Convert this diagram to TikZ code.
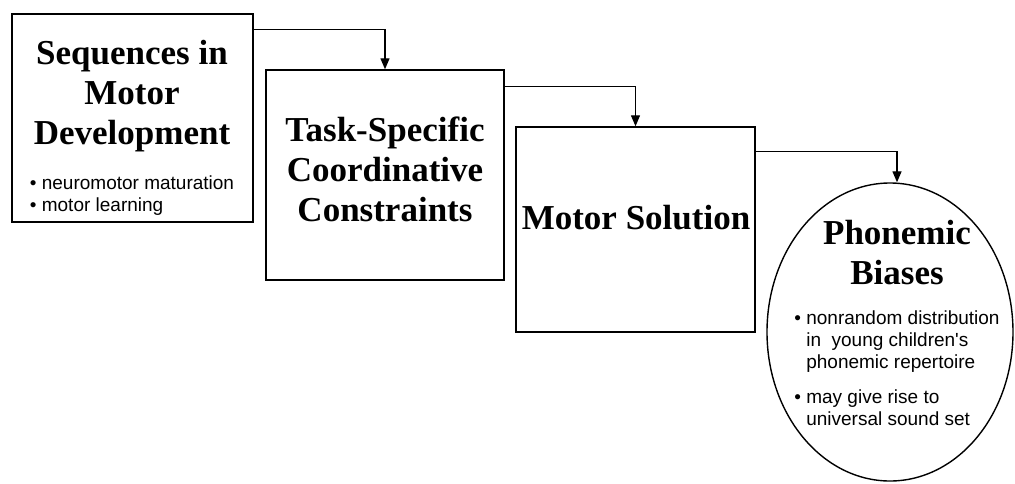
\documentclass[tikz,border=0pt]{standalone}
\usepackage{fontspec}
\setmainfont{Liberation Serif}
\newfontfamily\arialfont{Liberation Sans}
\usetikzlibrary{shapes.geometric}
\usetikzlibrary{arrows.meta}

\newcommand{\headfont}{\fontsize{35}{40}\selectfont\bfseries}
\newcommand{\itemfont}{\fontsize{19}{22}\selectfont\arialfont\mdseries}

\begin{document}
\begin{tikzpicture}[x=1pt,y=-1pt,
  stagebox/.style={draw,rectangle,line width=1.4pt,inner sep=0pt},
  stagetext/.style={align=center,inner sep=0pt,font=\headfont},
  link/.style={line width=1.3pt,-{Triangle[length=11pt,width=9pt]}}]
  \useasboundingbox (0,0) rectangle (1015,483);
  % stages
  \node[stagebox,minimum width=241pt,minimum height=208pt] (seq) at (132.5,118) {};
  \node[stagebox,minimum width=238pt,minimum height=210pt] (task) at (385,175) {};
  \node[stagebox,minimum width=239pt,minimum height=205pt] (sol) at (635.5,229.5) {};
  \node[draw,ellipse,line width=1.4pt,minimum width=246pt,minimum height=298pt] (bias) at (890,332) {};
  % texts
  \node[stagetext] (seqtext) at (132,129.5)
    {Sequences in\\ Motor\\ Development\\[5pt]
     \itemfont\begin{tabular}[t]{@{}l@{\ }l@{}}
       \textbullet & neuromotor maturation\\
       \textbullet & motor learning
     \end{tabular}};
  \node[stagetext] (tasktext) at (385,169) {Task-Specific\\ Coordinative\\ Constraints};
  \node[stagetext] (soltext) at (636,218) {Motor Solution};
  \node[stagetext] (biastext) at (897,326.5)
    {Phonemic\\ Biases\\[0pt]
     \itemfont\begin{tabular}[t]{@{}l@{\ }l@{}}
       \textbullet & nonrandom distribution\\
                   & in\ \ young children's\\
                   & phonemic repertoire\\[13pt]
       \textbullet & may give rise to\\
                   & universal sound set
     \end{tabular}};
  % connectors
  \draw[link] ([yshift=-16pt]seq.north east) -| (task.north);
  \draw[link] ([yshift=-17pt]task.north east) -| (sol.north);
  \draw[link] ([yshift=-25pt]sol.north east) -| ([xshift=7pt]bias.north);
\end{tikzpicture}
\end{document}
